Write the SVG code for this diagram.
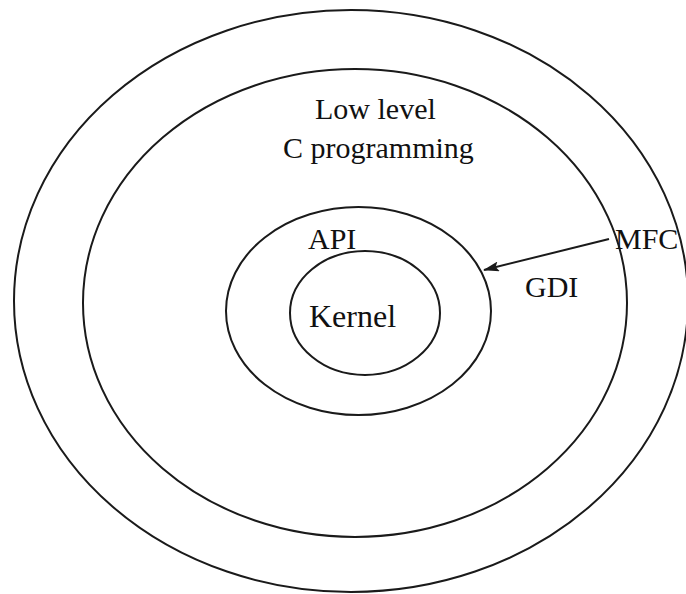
<svg xmlns="http://www.w3.org/2000/svg" width="686" height="594" viewBox="0 0 686 594">
<style>
.ring{fill:none;stroke:#1a1a1a;stroke-width:2}
.lbl{font-family:"Liberation Serif","Times New Roman",serif;font-size:30px;fill:#111}
.conn{stroke:#1a1a1a;stroke-width:2;fill:none}
</style>
<defs>
<marker id="ah" viewBox="0 0 16 10" refX="15" refY="5" markerWidth="16" markerHeight="10" markerUnits="userSpaceOnUse" orient="auto">
<path d="M0,0 L16,5 L0,10 L3,5 z" fill="#1a1a1a"/>
</marker>
</defs>
<rect width="686" height="594" fill="#fff"/>
<g id="mfc-ring">
<ellipse class="ring" cx="351" cy="301" rx="337" ry="291"/>
<text class="lbl" x="615" y="249">MFC</text>
</g>
<g id="gdi-ring">
<ellipse class="ring" cx="355" cy="303" rx="272" ry="234"/>
<text class="lbl" x="315" y="119">Low level</text>
<text class="lbl" x="283" y="158">C programming</text>
<text class="lbl" x="525" y="297">GDI</text>
</g>
<g id="api-ring">
<ellipse class="ring" cx="358.5" cy="311" rx="132.5" ry="104"/>
<text class="lbl" x="308" y="249">API</text>
</g>
<g id="kernel">
<ellipse class="ring" cx="365" cy="313" rx="75" ry="62"/>
<text class="lbl" x="309" y="327" style="font-size:32px">Kernel</text>
</g>
<g id="connectors">
<line class="conn" x1="609" y1="239" x2="484" y2="270" marker-end="url(#ah)"/>
</g>
</svg>
